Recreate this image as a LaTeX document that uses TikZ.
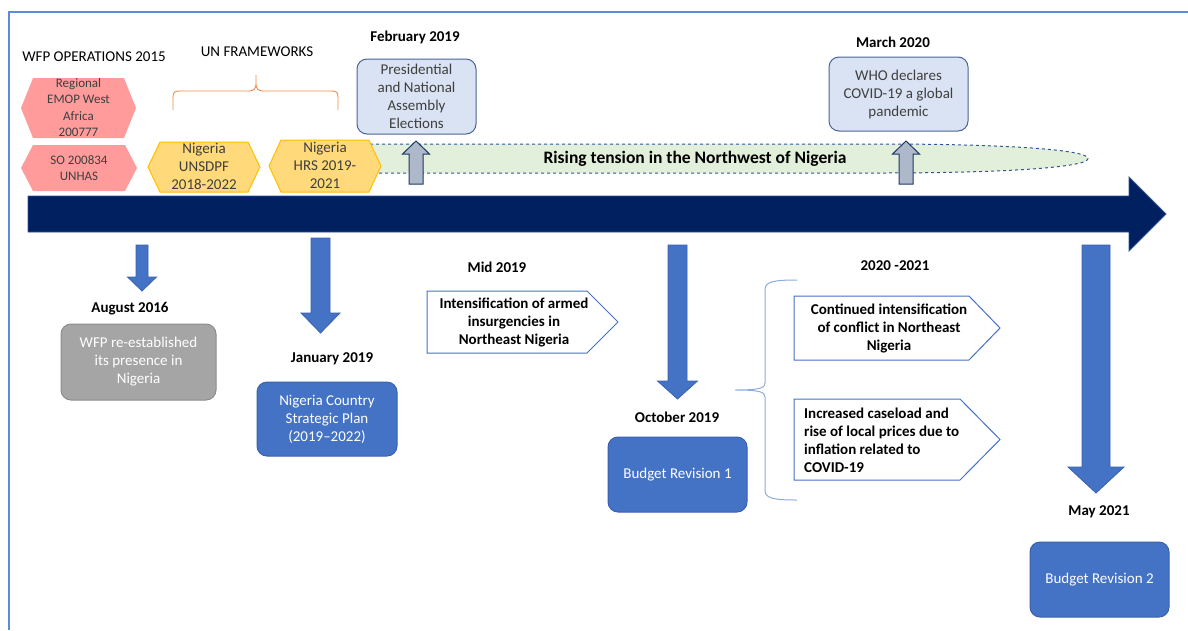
\documentclass[tikz,border=0pt]{standalone}
\usepackage{fontspec}
\setmainfont{Carlito}
\usepackage{tikz}
\usetikzlibrary{positioning}

\definecolor{framecol}{HTML}{5B8BD9}
\definecolor{navy}{HTML}{002060}
\definecolor{navyline}{HTML}{2F5597}
\definecolor{paleblue}{HTML}{DAE3F3}
\definecolor{paleline}{HTML}{4A6296}
\definecolor{upfill}{HTML}{ADB9CA}
\definecolor{upline}{HTML}{1F3864}
\definecolor{bandfill}{HTML}{E2EFDA}
\definecolor{planblue}{HTML}{4472C4}
\definecolor{planline}{HTML}{3A62AE}
\definecolor{greybox}{HTML}{A5A5A5}
\definecolor{greyline}{HTML}{8C8C8C}
\definecolor{pink}{HTML}{FF9B9B}
\definecolor{gold}{HTML}{FFD97A}
\definecolor{goldline}{HTML}{FFC000}
\definecolor{bracebrown}{HTML}{F08A4B}
\definecolor{bracelight}{HTML}{8FAADC}
\definecolor{txtgrey}{HTML}{3F3F3F}

% block arrow pointing down: x, top, shaft half, head base, head half, tip
\newcommand{\blockdown}[6]{%
  \filldraw[fill=planblue, draw=planline, line width=0.8pt]
    (#1-#3,#2) -- (#1+#3,#2) -- (#1+#3,#4) -- (#1+#5,#4) -- (#1,#6)
    -- (#1-#5,#4) -- (#1-#3,#4) -- cycle;}
% block arrow pointing up from the band
\newcommand{\blockup}[1]{%
  \filldraw[fill=upfill, draw=upline, line width=1pt]
    (#1-7,184) -- (#1-7,154) -- (#1-13.5,154) -- (#1,141) -- (#1+13.5,154)
    -- (#1+7,154) -- (#1+7,184) -- cycle;}
% hexagon: style, left, right, top, bottom, inset
\newcommand{\hexa}[6]{%
  \path[#1] (#2,{(#4+#5)/2}) -- (#2+#6,#4) -- (#3-#6,#4) -- (#3,{(#4+#5)/2})
    -- (#3-#6,#5) -- (#2+#6,#5) -- cycle;}

\begin{document}
\begin{tikzpicture}[x=1pt,y=-1pt,
    txt/.style={font=\fontsize{15}{18}\selectfont, inner sep=0pt, align=center},
    datelabel/.style={txt, font=\fontsize{15}{18}\selectfont\bfseries},
    eventbox/.style={txt, draw=paleline, fill=paleblue, text=txtgrey, line width=1pt,
      rounded corners=10pt},
    planbox/.style={txt, draw=planline, fill=planblue, text=white, line width=1pt,
      rounded corners=10pt},
    hexatext/.style={font=\fontsize{13}{16.3}\selectfont, inner sep=0pt, align=center, text=txtgrey},
    pentline/.style={draw=planblue, fill=white, line width=1pt}]
  \useasboundingbox (0,0) rectangle (1188,630);

  % frame
  \draw[framecol, line width=1.3pt] (9,630) -- (9,12) -- (1188,12);

  % timeline
  \filldraw[fill=navy, draw=navyline, line width=0.8pt] (28,196) -- (1129,196) -- (1129,177)
    -- (1166,214) -- (1129,251) -- (1129,232) -- (28,232) -- cycle;

  % rising tension band
  \filldraw[fill=bandfill, draw=navyline, dashed, line width=1pt] (370,144) -- (880,144)
    .. controls (1010,144) and (1088,150) .. (1088,158.5)
    .. controls (1088,167) and (1010,173) .. (880,173) -- (370,173) -- cycle;
  \node[txt, font=\fontsize{17.5}{20}\selectfont\bfseries] (tension) at (695,158.5)
    {Rising tension in the Northwest of Nigeria};

  % top column
  \node[txt] (wfpops) at (94,57) {WFP OPERATIONS 2015};
  \node[txt] (unframe) at (257,52) {UN FRAMEWORKS};
  \draw[bracebrown, line width=0.9pt] (173,110) -- (173,97) .. controls (173,92) and (175,91) .. (180,91)
    -- (249,91) .. controls (254,91) and (256,88) .. (256,84) -- (256,75) -- (256,84)
    .. controls (256,88) and (258,91) .. (263,91) -- (331,91)
    .. controls (336,91) and (338,92) .. (338,97) -- (338,110);

  \hexa{fill=pink}{21}{136}{78}{138}{12}
  \node[hexatext] (emop) at (78.5,107.5) {Regional\\EMOP West\\Africa\\200777};
  \hexa{fill=pink}{21}{137}{145}{191}{12}
  \node[hexatext] (unhas) at (79,168) {SO 200834\\UNHAS};
  \hexa{fill=gold, draw=goldline, line width=1pt}{148}{260}{142}{192}{12}
  \node[txt, text=txtgrey] (unsdpf) at (204,166) {Nigeria\\UNSDPF\\2018-2022};
  \hexa{fill=gold, draw=goldline, line width=1pt}{269}{381}{140}{192}{12}
  \node[txt, text=txtgrey] (hrs) at (325,165) {Nigeria\\HRS 2019-\\2021};

  \node[datelabel] (feb) at (415,37) {February 2019};
  \node[eventbox, minimum width=119, minimum height=75] (elections) at (416.5,96.5)
    {Presidential\\and National\\Assembly\\Elections};
  \node[datelabel] (mar) at (893,42) {March 2020};
  \node[eventbox, minimum width=139, minimum height=74] (who) at (898.5,94)
    {WHO declares\\COVID-19 a global\\pandemic};
  \blockup{416}
  \blockup{906}

  % bottom column
  \blockdown{142}{245}{6}{277}{14.5}{291}
  \node[datelabel] (aug) at (130,309) {August 2016};
  \node[txt, draw=greyline, fill=greybox, text=white, line width=1pt, rounded corners=10pt,
    minimum width=155, minimum height=76] (reest) at (138.5,362)
    {WFP re-established\\its presence in\\Nigeria};

  \blockdown{320.5}{238}{9.5}{313}{19.5}{333}
  \node[datelabel] (jan) at (332,359) {January 2019};
  \node[planbox, minimum width=140, minimum height=74] (csp) at (327,419)
    {Nigeria Country\\Strategic Plan\\(2019--2022)};

  \node[datelabel] (mid) at (497,267) {Mid 2019};
  \draw[pentline] (427,291) -- (587,291) -- (618,322) -- (587,353) -- (427,353) -- cycle;
  \node[datelabel] (insurg) at (514,322) {Intensification of armed\\insurgencies in\\Northeast Nigeria};

  \blockdown{677.5}{245}{9.5}{381}{20}{399}
  \node[datelabel] (oct) at (677,417) {October 2019};
  \node[planbox, minimum width=139, minimum height=75] (br1) at (677.5,474.5) {Budget Revision 1};

  \node[datelabel] (years) at (895,266) {2020 -2021};
  \draw[bracelight, line width=1pt] (797,280) .. controls (772,280) and (765,282) .. (765,290)
    -- (765,383) .. controls (765,388) and (760,390) .. (735,390)
    .. controls (760,390) and (765,392) .. (765,397) -- (765,490)
    .. controls (765,498) and (772,500) .. (797,500);
  \draw[pentline] (794,296) -- (969,296) -- (1000,328) -- (969,360) -- (794,360) -- cycle;
  \node[datelabel] (conflict) at (889,328) {Continued intensification\\of conflict in Northeast\\Nigeria};
  \draw[pentline] (794,399) -- (960,399) -- (1000,439.5) -- (960,480) -- (794,480) -- cycle;
  \node[datelabel, align=left, anchor=west] (caseload) at (804,440)
    {Increased caseload and\\rise of local prices due to\\inflation related to\\COVID-19};

  \blockdown{1096}{245}{14}{467}{28}{493}
  \node[datelabel] (may) at (1099,512) {May 2021};
  \node[planbox, minimum width=139, minimum height=75] (br2) at (1099.5,579.5) {Budget Revision 2};
\end{tikzpicture}
\end{document}
